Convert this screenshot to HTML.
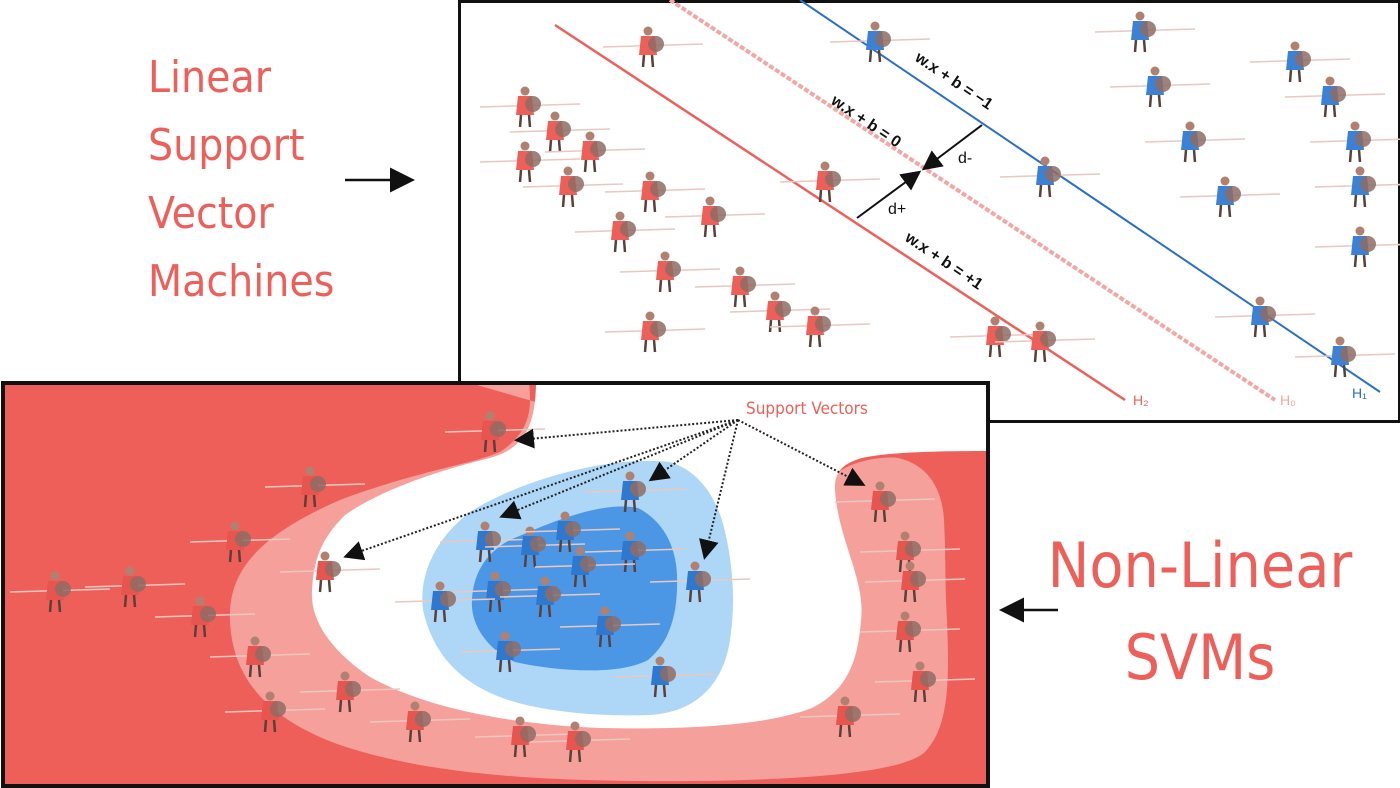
<!DOCTYPE html>
<html><head><meta charset="utf-8"><style>
html,body{margin:0;padding:0;background:#fff;width:1400px;height:788px;overflow:hidden;font-family:"Liberation Sans",sans-serif}
.hand{position:absolute;color:#ef5f5a;font-family:"DejaVu Sans Condensed","DejaVu Sans","Liberation Sans",sans-serif;white-space:nowrap}
</style></head><body>
<svg id="svg" width="1400" height="788" viewBox="0 0 1400 788" style="position:absolute;left:0;top:0">
<defs>
<marker id="ah" markerWidth="10" markerHeight="10" refX="8" refY="5" orient="auto"><path d="M0,0 L10,5 L0,10 Z" fill="#111"/></marker>
</defs>
<g>
<rect x="459.5" y="1.5" width="940" height="420" fill="#fff" stroke="#111" stroke-width="3"/>
<line x1="555" y1="25" x2="1125" y2="400" stroke="#ef5f5a" stroke-width="2.5"/>
<line x1="670" y1="0" x2="1275" y2="400" stroke="#f4a6a2" stroke-width="4" stroke-dasharray="5,2"/>
<line x1="800" y1="0" x2="1380" y2="392" stroke="#2a6fc9" stroke-width="2"/>
<text x="1133" y="405" font-size="14" fill="#ef5f5a">H₂</text>
<text x="1280" y="405" font-size="14" fill="#f4a6a2">H₀</text>
<text x="1352" y="398" font-size="14" fill="#2a6fc9">H₁</text>
<text transform="translate(914,60) rotate(34)" font-size="16" font-weight="bold" fill="#111">w.x + b = −1</text>
<text transform="translate(830,103) rotate(34)" font-size="16" font-weight="bold" fill="#111">w.x + b = 0</text>
<text transform="translate(904,240) rotate(34)" font-size="16" font-weight="bold" fill="#111">w.x + b = +1</text>
<line x1="982" y1="125" x2="925" y2="168" stroke="#111" stroke-width="2" marker-end="url(#ah)"/>
<line x1="857" y1="218" x2="918" y2="173" stroke="#111" stroke-width="2" marker-end="url(#ah)"/>
<text x="958" y="163" font-size="16" fill="#111">d-</text>
<text x="888" y="214" font-size="16" fill="#111">d+</text>
<g id="topSoldiers"></g>
</g>
<g>
<rect x="3" y="383" width="985" height="403" fill="#ef5f5a"/>
<path fill="#f6a09c" d="M470,383 L529,383 C532,410 530,432 500,452 C470,465 420,470 340,500 C260,535 228,570 230,620 C232,680 270,720 340,745 C420,772 520,780 640,781 C780,782 900,775 925,752 C950,725 950,680 946,600 C944,530 948,480 930,465 C910,455 880,456 860,462 C840,468 828,478 829,487 Z"/>
<path fill="#ef5f5a" d="M893,457 C920,453 960,452 988,452 L988,786 L880,786 C930,770 952,740 952,700 C950,640 946,570 944,520 C942,485 925,462 893,457 Z"/>
<path fill="#fff" d="M536,385 L986,385 L986,451 C940,451 890,452 862,458 C845,463 834,470 835,490 C838,540 866,580 861,620 C858,660 848,690 812,708 C770,724 700,730 600,728 C500,724 420,705 370,677 C330,650 310,620 312,590 C314,560 320,540 345,515 C380,490 440,470 490,458 C525,448 535,425 536,385 Z"/>
<path fill="#aed6f6" d="M670,462 C695,470 712,490 722,520 C733,560 736,600 730,640 C724,680 700,712 650,715 C590,717 530,710 495,695 C455,678 432,650 423,610 C418,570 440,535 470,512 C520,480 610,455 670,462 Z"/>
<path fill="#4b97e6" d="M638,508 C662,520 676,545 677,575 C678,610 672,640 648,660 C620,675 560,672 515,662 C488,650 470,625 472,600 C473,575 485,553 510,540 C545,525 600,500 638,508 Z"/>
<g id="botSoldiers"></g>
<rect x="3" y="383" width="985" height="403" fill="none" stroke="#111" stroke-width="4"/>
<g stroke="#222" stroke-width="2" stroke-dasharray="2,2" fill="none">
<line x1="738" y1="420" x2="518" y2="440" marker-end="url(#ah)"/>
<line x1="738" y1="420" x2="347" y2="556" marker-end="url(#ah)"/>
<line x1="738" y1="420" x2="503" y2="516" marker-end="url(#ah)"/>
<line x1="738" y1="420" x2="652" y2="479" marker-end="url(#ah)"/>
<line x1="738" y1="420" x2="705" y2="556" marker-end="url(#ah)"/>
<line x1="738" y1="420" x2="862" y2="484" marker-end="url(#ah)"/>
</g>
<text x="746" y="414" font-size="17" fill="#ef5f5a" font-family="DejaVu Sans Condensed, DejaVu Sans, sans-serif">Support Vectors</text>
</g>
<line x1="345" y1="180" x2="410" y2="180" stroke="#111" stroke-width="2.5" marker-end="url(#ah)"/>
<line x1="1058" y1="610" x2="1004" y2="610" stroke="#111" stroke-width="2.5" marker-end="url(#ah)"/>
</svg>
<div class="hand" style="left:148px;top:44px;font-size:44px;line-height:68px">Linear<br>Support<br>Vector<br>Machines</div>
<div class="hand" style="left:1030px;top:520px;font-size:62px;line-height:92px;text-align:center;width:340px">Non-Linear<br>SVMs</div>
<script>
const topRedX=[648,525,555,590,525,568,650,710,620,825,665,740,775,815,650,995,1040];
const topRedY=[45,105,130,150,160,185,190,215,230,180,270,285,310,325,330,335,340];
const topBlueX=[875,1140,1155,1295,1330,1355,1190,1045,1225,1360,1360,1260,1340];
const topBlueY=[40,30,85,60,95,140,140,175,195,185,245,315,355];
const botRedX=[490,310,235,325,55,130,200,255,270,345,415,520,575,845,880,905,910,905,920];
const botRedY=[430,485,540,570,590,585,615,655,710,690,720,735,740,715,500,550,580,630,680];
const botBlueX=[630,485,530,565,630,580,495,545,440,695,605,505,660];
const botBlueY=[490,540,545,530,550,565,590,595,600,580,625,650,675];
const NS='http://www.w3.org/2000/svg';
function soldier(g,x,y,col){
  const s=document.createElementNS(NS,'g');
  
  
  s.innerHTML=
   `<line x1="${x-45}" y1="${y+2}" x2="${x+55}" y2="${y-1}" stroke="#e8c8c0" stroke-width="1.5"/>`+
   `<circle cx="${x}" cy="${y-14}" r="4.5" fill="#b08070"/>`+
   `<path d="M${x-7},${y-9} L${x+7},${y-9} L${x+9},${y+10} L${x-9},${y+10} Z" fill="${col}"/>`+
   `<circle cx="${x+8}" cy="${y-1}" r="8" fill="#8e6c64" opacity="0.85"/>`+
   `<line x1="${x-4}" y1="${y+10}" x2="${x-5}" y2="${y+22}" stroke="#5a4038" stroke-width="2.5"/>`+
   `<line x1="${x+4}" y1="${y+10}" x2="${x+5}" y2="${y+22}" stroke="#5a4038" stroke-width="2.5"/>`;
  g.appendChild(s);
}
const tg=document.getElementById('topSoldiers'),bg=document.getElementById('botSoldiers');
topRedX.forEach((x,i)=>soldier(tg,x,topRedY[i],'#ef5f5a'));
topBlueX.forEach((x,i)=>soldier(tg,x,topBlueY[i],'#3b82d6'));
botRedX.forEach((x,i)=>soldier(bg,x,botRedY[i],'#e8544e'));
botBlueX.forEach((x,i)=>soldier(bg,x,botBlueY[i],'#2f78d0'));
</script>
</body></html>
